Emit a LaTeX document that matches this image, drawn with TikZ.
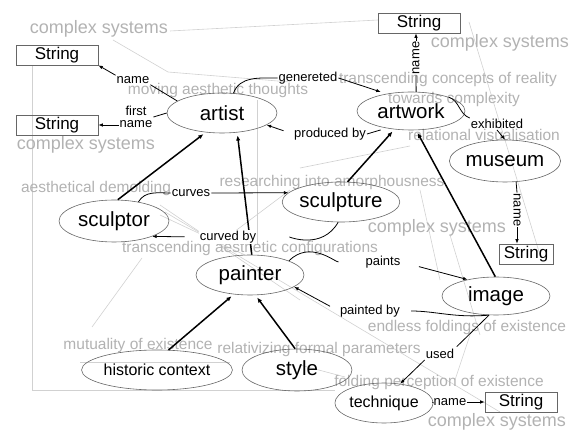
\documentclass[tikz,border=0pt]{standalone}
\usepackage{fontspec}
\setmainfont{Liberation Sans}
\usetikzlibrary{shapes.geometric,arrows.meta}
\tikzset{
  concept/.style={ellipse, draw=black!60, line width=0.6pt, inner sep=0pt,
    minimum width=108pt, minimum height=40pt, font=\fontsize{20.5}{22}\selectfont},
  small concept/.style={concept, font=\fontsize{16}{18}\selectfont},
  strbox/.style={rectangle, draw=black!60, line width=0.6pt, inner sep=0pt,
    minimum height=20pt, font=\fontsize{17}{18}\selectfont},
  rel/.style={inner sep=1pt, font=\fontsize{13}{14}\selectfont},
  note/.style={text=black!30, inner sep=0pt, font=\fontsize{15.5}{17}\selectfont},
  big note/.style={note, font=\fontsize{18}{20}\selectfont},
  web/.style={draw=black!18, line width=0.6pt},
  link/.style={line width=0.8pt},
  arr/.style={-{Latex[length=4.5pt,width=3.5pt]}},
  isa/.style={line width=1.5pt, -{Latex[length=5pt,width=4.5pt]}, shorten >=3pt},
}
\begin{document}
\begin{tikzpicture}[x=1pt,y=-1pt]
\useasboundingbox (0,0) rectangle (579,430);

% background web
\draw[web] (170,31) -- (378,20);
\draw[web] (113,40) -- (168,72) -- (290,82);
\draw[web] (32,65) -- (32,390) -- (335,390);
\draw[web] (142,258) -- (92,327);
\draw[web] (165,212) -- (500,412);
\draw[web] (160,205) -- (300,300);
\draw[web] (160,215) -- (245,255);
\draw[web] (257,100) -- (257,245);
\draw[web] (230,235) -- (290,190);
\draw[web] (300,168) -- (410,146);
\draw[web] (469,22) -- (540,255);
\draw[web] (420,190) -- (440,280);
\draw[web] (450,235) -- (480,335);
\draw[web] (470,335) -- (455,380);
\draw[web] (80,362) -- (230,362);
\draw[web] (300,365) -- (345,377);

% gray phrases
\node[big note] (cs1) at (99,29) {complex systems};
\node[big note] (cs2) at (500,43) {complex systems};
\node[big note] (cs3) at (86,145) {complex systems};
\node[big note] (cs4) at (437,228) {complex systems};
\node[big note] (cs5) at (497,422) {complex systems};
\node[note] (mov) at (218,90) {moving aesthetic thoughts};
\node[note] (tcr) at (448,79) {transcending concepts of reality};
\node[note] (tow) at (454,99) {towards complexity};
\node[note] (relv) at (484,135) {relational visualisation};
\node[note] (aes) at (96,188) {aesthetical demolding};
\node[note] (res) at (332,182) {researching into amorphousness};
\node[note] (tac) at (250,248) {transcending aesthetic configurations};
\node[note] (endl) at (467,327) {endless foldings of existence};
\node[note] (mut) at (138,345) {mutuality of existence};
\node[note] (rfp) at (319,349) {relativizing formal parameters};
\node[note] (fpe) at (439,382) {folding perception of existence};

% concepts
\node[concept, minimum width=110pt] (artist) at (222,113) {artist};
\node[concept, minimum height=38pt] (artwork) at (411,111) {artwork};
\node[concept, minimum width=94pt, minimum height=42pt] (museum) at (505,161) {museum};
\node[concept, minimum width=110pt, minimum height=42pt] (sculptor) at (114,221) {sculptor};
\node[concept] (sculpture) at (341,202) {sculpture};
\node[concept] (painter) at (250,275) {painter};
\node[concept, minimum height=38pt] (image) at (496,296) {image};
\node[small concept, minimum width=110pt] (historic) at (157,370) {historic context};
\node[concept, minimum width=110pt, minimum height=42pt] (style) at (297,370) {style};
\node[small concept, minimum width=72pt] (technique) at (384,403) {technique};

% strings
\node[strbox, minimum width=82pt] (s1) at (57,55) {String};
\node[strbox, minimum width=82pt] (s5) at (57,125) {String};
\node[strbox, minimum width=82pt] (s2) at (419,23) {String};
\node[strbox, minimum width=54pt] (s3) at (526,254) {String};
\node[strbox, minimum width=72pt] (s4) at (521,402) {String};

% relation labels
\node[rel] (nm1) at (133,80) {name};
\node[rel, align=center] (fn) at (136,117) {first\\[-2pt]name};
\node[rel] (gen) at (308,78) {genereted};
\node[rel] (prod) at (330,134) {produced by};
\node[rel] (exh) at (497,124) {exhibited};
\node[rel, rotate=90] (nm2) at (416,58) {name};
\node[rel, rotate=-90] (nm3) at (517,210) {name};
\node[rel] (crv) at (191,193) {curves};
\node[rel] (pts) at (383,262) {paints};
\node[rel] (pby) at (370,311) {painted by};
\node[rel] (usd) at (440,354) {used};
\node[rel] (nm4) at (450,402) {name};

% generalisations
\draw[isa] (sculptor.80) -- (artist.230);
\draw[isa] (painter.85) -- (artist.308);
\draw[isa] (historic.60) -- (painter.230);
\draw[isa] (style.95) -- (painter.285);
\draw[isa] (sculpture.72) -- (artwork.228);
\draw[isa] (image.92) -- (artwork.285);

\node[rel, fill=white] (cby) at (228,237) {curved by};

% relations
\draw[link] (artist.165) -- (nm1.south east);
\draw[link, arr] (nm1.north west) -- (s1.south east);
\draw[link] (artist.west) -- (fn.east);
\draw[link, arr] (fn.west |- s5.east) -- (s5.east);
\draw[link] (artist.60) to[out=70,in=180] (gen.west);
\draw[link, arr, shorten >=6pt] (gen.east) -- (artwork.145);
\draw[link, shorten <=6pt] (artwork.215) -- (prod.east);
\draw[link, arr, shorten <=10pt] (prod.west) -- (artist.-15);
\draw[link] (artwork.20) to[out=-20,in=160] (exh.north west);
\draw[link, arr] (exh.south) -- (museum.north);
\draw[link] (artwork.75) -- (nm2.west);
\draw[link, arr] (nm2.east) -- (nm2.east |- s2.south);
\draw[link] (museum.-62) -- (nm3.west);
\draw[link, arr] (nm3.east) -- (nm3.east |- s3.north);
\draw[link] (sculptor.38) to[out=60,in=180] (crv.west);
\draw[link, arr] (crv.east) -- (sculpture.170);
\draw[link, shorten >=32pt] (sculpture.262) to[out=240,in=0] (cby.east);
\draw[link, arr, shorten <=14pt] (cby.west) -- (sculptor.-22);
\draw[link, shorten >=26pt] (painter.20) to[out=45,in=180] (pts.west);
\draw[link, arr, shorten <=18pt] (pts.east) -- (image.150);
\draw[link, shorten >=10pt] (image.250) to[out=185,in=0] (pby.east);
\draw[link, arr, shorten <=10pt] (pby.west) -- (painter.-15);
\draw[link, shorten >=2pt] (image.250) -- (usd.north east);
\draw[link, arr] (usd.south west) -- (technique.50);
\draw[link] (technique.east) -- (nm4.west);
\draw[link, arr] (nm4.east) -- (s4.west);
\end{tikzpicture}
\end{document}
